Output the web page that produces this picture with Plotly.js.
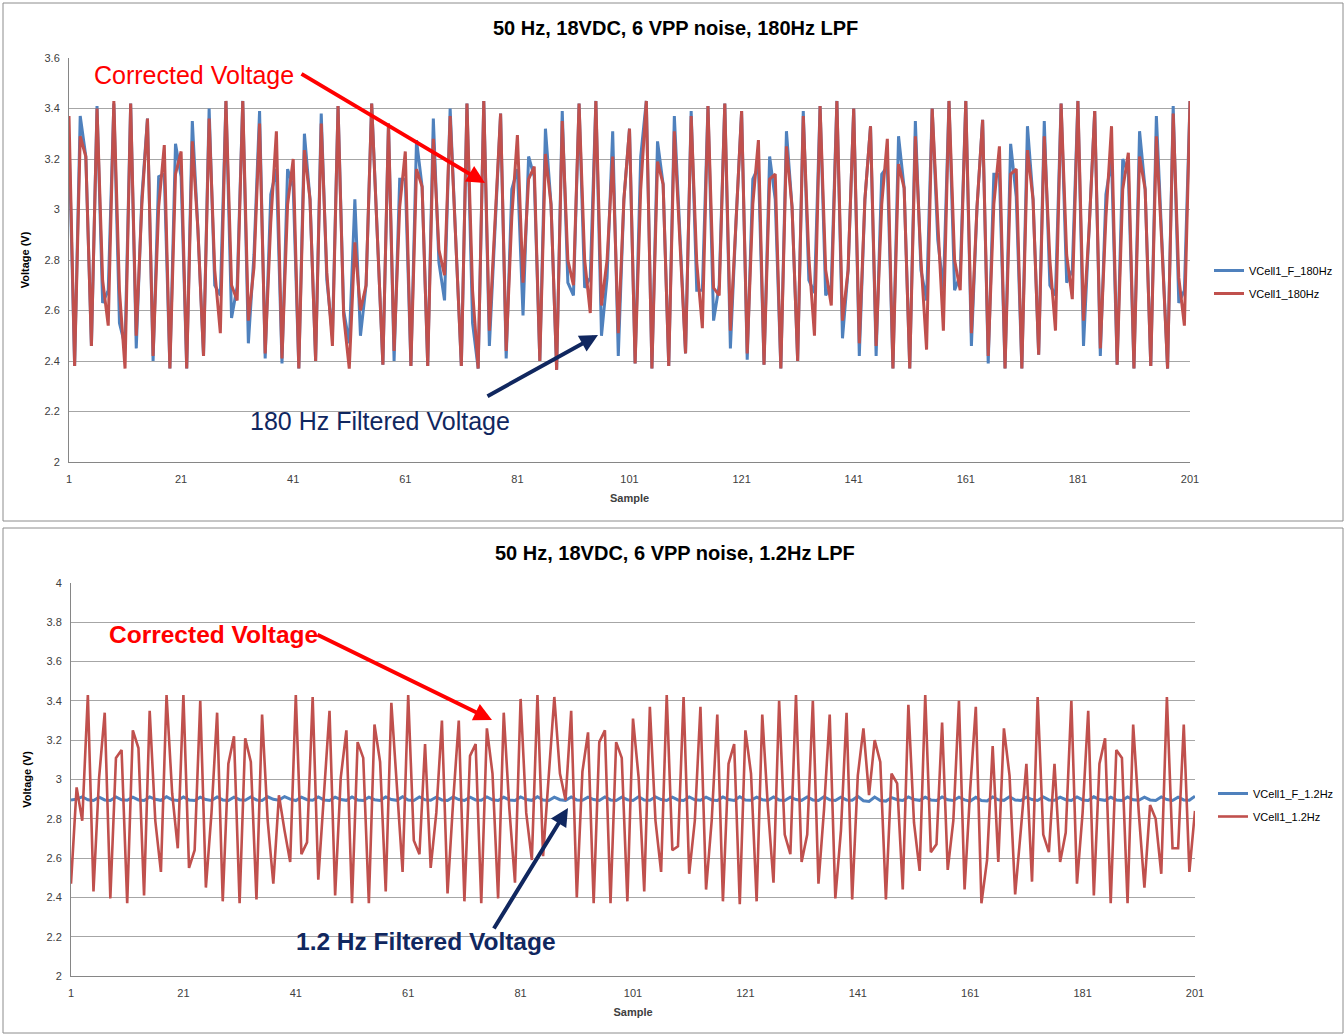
<!DOCTYPE html>
<html>
<head>
<meta charset="utf-8">
<script src="https://cdn.plot.ly/plotly-3.0.1.min.js"></script>
<style>html,body{margin:0;padding:0;background:#fff}#chart{width:1344px;height:1036px}</style>
</head>
<body>
<div id="chart"></div>
<script>
// ---------- data ----------
const sampleCount = 201;
const samples = Array.from({length: sampleCount}, (_, i) => i + 1);
const xTickVals = [1, 21, 41, 61, 81, 101, 121, 141, 161, 181, 201];

// Top chart: 180 Hz LPF
const vcell1F180 = [
3.28,2.38,3.37,3.21,2.46,3.41,2.63,2.68,3.42,2.55, 2.46,3.42,2.45,3.05,3.36,2.40,3.13,3.14,2.37,3.26,
3.13,2.37,3.35,2.92,2.42,3.40,2.70,2.66,3.43,2.57, 2.695,3.43,2.47,2.82,3.39,2.41,3.06,3.16,2.39,3.16,
3.09,2.37,3.30,3.04,2.40,3.38,2.72,2.50,3.41,2.60, 2.47,3.04,2.50,2.70,3.42,2.90,2.385,3.34,2.40,3.12,
3.12,2.38,3.275,3.09,2.38,3.36,2.79,2.64,3.40,2.88, 2.38,3.42,2.55,2.37,3.43,2.46,2.95,3.38,2.41,3.08,
3.16,2.58,3.21,3.13,2.40,3.32,3.02,2.365,3.39,2.71, 2.66,3.42,2.69,2.73,3.43,2.50,2.73,3.31,2.42,3.04,
3.32,2.39,3.21,3.43,2.37,3.27,3.10,2.38,3.37,2.88, 2.43,3.39,2.68,2.68,3.41,2.56,2.70,3.42,2.45,2.95,
3.39,2.405,3.12,3.17,2.385,3.21,3.04,2.37,3.31,3.01, 2.40,3.39,2.72,2.67,3.41,2.66,2.70,3.43,2.49,2.76,
3.40,2.42,3.04,3.33,2.42,3.14,3.17,2.37,3.29,3.085, 2.37,3.35,2.76,2.64,3.40,2.88,2.68,3.43,2.68,2.74,
3.43,2.46,3.01,3.355,2.39,3.14,3.14,2.37,3.26,3.05, 2.37,3.33,3.04,2.425,3.35,2.70,2.66,3.42,2.71,2.76,
3.43,2.46,2.92,3.39,2.42,3.06,3.20,2.385,3.20,3.14, 2.37,3.31,3.08,2.38,3.37,2.85,2.37,3.41,2.63,2.68,
3.43];
const vcell1180 = [
3.37,2.38,3.29,3.21,2.46,3.40,2.72,2.54,3.43,2.68, 2.37,3.42,2.50,3.02,3.36,2.42,3.01,3.255,2.37,3.14,
3.23,2.37,3.27,2.92,2.42,3.36,2.76,2.51,3.43,2.70, 2.64,3.43,2.56,2.77,3.34,2.43,2.95,3.31,2.41,3.02,
3.20,2.37,3.235,3.04,2.40,3.34,2.75,2.46,3.41,2.58, 2.37,2.87,2.60,2.70,3.42,2.90,2.385,3.34,2.44,3.01,
3.23,2.38,3.16,3.09,2.38,3.28,2.84,2.74,3.37,2.88, 2.38,3.42,2.68,2.37,3.43,2.52,2.95,3.38,2.44,2.97,
3.295,2.71,3.12,3.17,2.40,3.22,3.02,2.365,3.35,2.80, 2.70,3.42,2.80,2.59,3.43,2.62,2.80,3.21,2.51,3.04,
3.32,2.39,3.08,3.43,2.37,3.19,3.10,2.38,3.31,2.88, 2.43,3.37,2.79,2.53,3.41,2.69,2.66,3.42,2.52,2.95,
3.39,2.43,3.02,3.275,2.385,3.12,3.14,2.37,3.25,3.01, 2.40,3.37,2.81,2.50,3.41,2.76,2.62,3.43,2.56,2.76,
3.40,2.47,3.04,3.33,2.46,3.02,3.28,2.37,3.18,3.085, 2.37,3.29,2.80,2.445,3.40,2.95,2.52,3.43,2.80,2.68,
3.43,2.51,3.01,3.355,2.42,3.02,3.25,2.37,3.14,3.16, 2.37,3.235,3.04,2.425,3.29,2.80,2.52,3.42,2.82,2.645,
3.43,2.56,2.92,3.39,2.45,2.97,3.33,2.385,3.08,3.225, 2.37,3.21,3.08,2.38,3.29,2.85,2.37,3.38,2.73,2.54,
3.43];

// Bottom chart: 1.2 Hz LPF
const vcell1F12 = [
2.895,2.900,2.912,2.897,2.893,2.910,2.896,2.893,2.911,2.897, 2.894,2.910,2.896,2.893,2.911,2.899,2.894,2.912,2.897,2.893,
2.911,2.896,2.893,2.910,2.898,2.893,2.911,2.896,2.893,2.910, 2.897,2.894,2.911,2.896,2.893,2.912,2.899,2.895,2.913,2.900,
2.893,2.910,2.897,2.894,2.911,2.896,2.893,2.910,2.898,2.894, 2.911,2.896,2.893,2.910,2.897,2.893,2.911,2.898,2.894,2.912,
2.896,2.893,2.911,2.897,2.894,2.910,2.896,2.893,2.911,2.898, 2.893,2.910,2.896,2.894,2.911,2.897,2.893,2.910,2.896,2.893,
2.911,2.898,2.894,2.912,2.896,2.893,2.910,2.897,2.893,2.911, 2.896,2.894,2.910,2.898,2.893,2.911,2.896,2.893,2.910,2.897,
2.893,2.912,2.896,2.894,2.911,2.898,2.893,2.910,2.896,2.893, 2.911,2.897,2.894,2.910,2.896,2.893,2.911,2.898,2.893,2.912,
2.896,2.894,2.910,2.897,2.893,2.911,2.896,2.893,2.910,2.898, 2.894,2.911,2.896,2.893,2.912,2.897,2.893,2.910,2.896,2.894,
2.914,2.892,2.888,2.911,2.893,2.890,2.908,2.897,2.893,2.911, 2.898,2.894,2.910,2.896,2.893,2.911,2.897,2.893,2.910,2.896,
2.890,2.909,2.893,2.891,2.911,2.897,2.894,2.912,2.896,2.893, 2.910,2.898,2.893,2.911,2.896,2.894,2.910,2.897,2.893,2.911,
2.896,2.893,2.912,2.898,2.894,2.910,2.896,2.893,2.911,2.897, 2.894,2.910,2.896,2.893,2.911,2.898,2.893,2.910,2.896,2.894,
2.915];
const vcell112 = [
2.47,2.96,2.79,3.43,2.43,3.01,3.34,2.395,3.11,3.15, 2.37,3.25,3.16,2.41,3.35,2.79,2.53,3.43,2.93,2.65,
3.43,2.55,2.64,3.40,2.45,2.83,3.34,2.38,3.08,3.22, 2.37,3.21,3.09,2.39,3.33,2.79,2.47,2.92,2.74,2.58,
3.43,2.62,2.68,3.42,2.49,2.93,3.35,2.41,3.01,3.25, 2.37,3.19,3.11,2.37,3.28,3.09,2.43,3.39,2.96,2.53,
3.43,2.69,2.62,3.18,2.55,2.83,3.30,2.42,2.89,3.30, 2.38,3.12,3.18,2.37,3.26,3.03,2.395,3.34,2.85,2.475,
3.41,2.83,2.59,3.43,2.61,3.00,3.42,3.03,2.895,3.35, 2.40,3.04,3.24,2.37,3.19,3.25,2.37,3.19,3.11,2.38,
3.31,3.01,2.43,3.37,2.79,2.53,3.43,2.64,2.66,3.42, 2.52,2.79,3.37,2.44,2.79,3.33,2.38,3.08,3.18,2.365,
3.25,3.03,2.38,3.33,2.86,2.475,3.40,2.72,2.62,3.43, 2.58,2.72,3.40,2.47,2.85,3.33,2.395,2.74,3.34,2.39,
3.02,3.26,2.92,3.20,3.09,2.39,3.03,2.98,2.44,3.38, 2.78,2.535,3.43,2.63,2.67,3.29,2.54,2.79,3.40,2.44,
2.95,3.37,2.37,2.59,3.17,2.58,3.26,3.02,2.415,2.74, 3.08,2.48,3.42,2.72,2.63,3.08,2.58,2.73,3.40,2.47,
2.83,3.35,2.41,3.08,3.21,2.37,3.15,3.11,2.37,3.28, 2.83,2.45,2.87,2.80,2.52,3.42,2.65,2.65,3.28,2.53,
2.84];

// ---------- layout helpers (pixel -> paper) ----------
const W = 1344, H = 1036;
const px = x => x / W;
const py = y => 1 - y / H;

const FONT = 'Liberation Sans, Arial, sans-serif';
const BLUE = '#4F81BD', RED = '#C0504D', NAVY = '#10275f', GRID = '#a6a6a6', TXT = '#404040';

const traces = [
  {x: samples, y: vcell1F180, name: 'VCell1_F_180Hz', type: 'scatter', mode: 'lines',
   line: {color: BLUE, width: 3}, xaxis: 'x', yaxis: 'y', legend: 'legend', legendgroup: 'a'},
  {x: samples, y: vcell1180, name: 'VCell1_180Hz', type: 'scatter', mode: 'lines',
   line: {color: RED, width: 3}, xaxis: 'x', yaxis: 'y', legend: 'legend', legendgroup: 'b'},
  {x: samples, y: vcell1F12, name: 'VCell1_F_1.2Hz', type: 'scatter', mode: 'lines',
   line: {color: BLUE, width: 3}, xaxis: 'x2', yaxis: 'y2', legend: 'legend2', legendgroup: 'c'},
  {x: samples, y: vcell112, name: 'VCell1_1.2Hz', type: 'scatter', mode: 'lines',
   line: {color: RED, width: 2.6}, xaxis: 'x2', yaxis: 'y2', legend: 'legend2', legendgroup: 'd'}
];

function xAxis(domain, anchor) {
  return {
    domain: domain, anchor: anchor, range: [1, 201], tickvals: xTickVals,
    showgrid: false, zeroline: false, showline: true, linecolor: '#868686', linewidth: 1,
    ticks: 'outside', ticklen: 7, tickcolor: 'rgba(0,0,0,0)',
    tickfont: {family: FONT, size: 11, color: TXT},
    title: {text: '<b>Sample</b>', font: {family: FONT, size: 11, color: TXT}, standoff: 10},
    automargin: false, fixedrange: true
  };
}
function yAxis(domain, anchor, range) {
  return {
    domain: domain, anchor: anchor, range: range, dtick: 0.2,
    showgrid: true, gridcolor: GRID, gridwidth: 1, zeroline: false,
    showline: true, linecolor: '#868686', linewidth: 1,
    ticks: 'outside', ticklen: 6, tickcolor: 'rgba(0,0,0,0)',
    tickfont: {family: FONT, size: 11, color: TXT},
    title: {text: '<b>Voltage (V)</b>', font: {family: FONT, size: 11, color: '#000'}, standoff: 12},
    automargin: false, fixedrange: true
  };
}

function arrow(tailX, tailY, headX, headY, color, width) {
  return {xref: 'paper', yref: 'paper', x: px(headX), y: py(headY),
          ax: tailX - headX, ay: tailY - headY, text: '', showarrow: true,
          arrowcolor: color, arrowwidth: width, arrowhead: 2, arrowsize: 0.9};
}
function label(cx, cy, text, color, size) {
  return {xref: 'paper', yref: 'paper', x: px(cx), y: py(cy), xanchor: 'center', yanchor: 'middle',
          text: text, showarrow: false, font: {family: FONT, size: size, color: color}};
}

const layout = {
  width: W, height: H, margin: {l: 0, r: 0, t: 0, b: 0},
  paper_bgcolor: '#fff', plot_bgcolor: '#fff', showlegend: true,
  xaxis: xAxis([px(69), px(1190)], 'y'),
  yaxis: yAxis([py(462), py(58)], 'x', [2, 3.6]),
  xaxis2: xAxis([px(71), px(1195)], 'y2'),
  yaxis2: yAxis([py(976), py(583)], 'x2', [2, 4]),
  legend: {x: px(1209), y: py(256), xanchor: 'left', yanchor: 'top', traceorder: 'grouped',
           tracegroupgap: 4, font: {family: FONT, size: 11, color: '#000'}, bgcolor: 'rgba(0,0,0,0)',
           itemwidth: 30},
  legend2: {x: px(1213), y: py(779), xanchor: 'left', yanchor: 'top', traceorder: 'grouped',
           tracegroupgap: 4, font: {family: FONT, size: 11, color: '#000'}, bgcolor: 'rgba(0,0,0,0)',
           itemwidth: 30},
  shapes: [
    {type: 'rect', xref: 'paper', yref: 'paper', x0: px(3), x1: px(1343), y0: py(521), y1: py(3),
     line: {color: '#8c8c8c', width: 1}},
    {type: 'rect', xref: 'paper', yref: 'paper', x0: px(3), x1: px(1343), y0: py(1033), y1: py(528),
     line: {color: '#8c8c8c', width: 1}}
  ],
  annotations: [
    label(675, 28, '<b>50 Hz, 18VDC, 6 VPP noise, 180Hz LPF</b>', '#000', 20),
    label(675, 553, '<b>50 Hz, 18VDC, 6 VPP noise, 1.2Hz LPF</b>', '#000', 20),
    arrow(300, 73, 485, 183, '#FF0000', 4),
    label(194, 75, 'Corrected Voltage', '#FF0000', 25),
    arrow(486, 397, 598, 335, NAVY, 4),
    label(380, 421, '180 Hz Filtered Voltage', NAVY, 25),
    arrow(316, 634, 492, 720, '#FF0000', 4),
    label(213, 634, '<b>Corrected Voltage</b>', '#FF0000', 24.5),
    arrow(493, 930, 568, 808, NAVY, 4),
    label(426, 941, '<b>1.2 Hz Filtered Voltage</b>', NAVY, 24.5)
  ]
};

Plotly.newPlot('chart', traces, layout, {staticPlot: true, displayModeBar: false});
</script>
</body>
</html>
